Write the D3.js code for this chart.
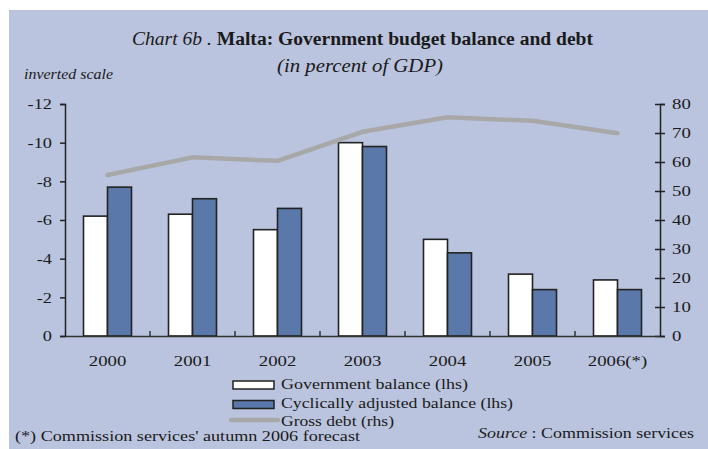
<!DOCTYPE html>
<html>
<head>
<meta charset="utf-8">
<script src="https://cdn.jsdelivr.net/npm/d3@7"></script>
<style>
  html, body { margin: 0; padding: 0; background: #ffffff; }
  svg { display: block; }
  text { font-family: "Liberation Serif", "Times New Roman", serif; fill: #1a1a1a; }
</style>
</head>
<body>
<svg id="chart" width="708" height="449"></svg>
<script>
// ---- Data ----
const years = ["2000", "2001", "2002", "2003", "2004", "2005", "2006(*)"];
const govBalance = [-6.2, -6.3, -5.5, -10.0, -5.0, -3.2, -2.9];   // lhs, inverted scale
const cycBalance = [-7.7, -7.1, -6.6, -9.8, -4.3, -2.4, -2.4];    // lhs, inverted scale
const grossDebt = [55.5, 61.6, 60.4, 70.4, 75.4, 74.2, 69.9];     // rhs
const leftTicks = [0, -2, -4, -6, -8, -10, -12];
const rightTicks = [0, 10, 20, 30, 40, 50, 60, 70, 80];
const seriesNames = ["Government balance (lhs)", "Cyclically adjusted balance (lhs)", "Gross debt (rhs)"];

// ---- Layout ----
const svg = d3.select("#chart");
const plot = { left: 65, right: 660, top: 104, bottom: 336 };
const colors = { bg: "#BAC4DE", gov: "#FFFFFF", cyc: "#5A78A9", debt: "#A8A8A8", axis: "#222222" };

function fitWidth(sel, w) { sel.attr("textLength", w).attr("lengthAdjust", "spacingAndGlyphs"); }
function stretch(sel, factor) {
  sel.each(function() {
    const L = this.getComputedTextLength();
    d3.select(this).attr("textLength", L * factor).attr("lengthAdjust", "spacingAndGlyphs");
  });
}

// background panel
svg.append("rect").attr("x", 9).attr("y", 10).attr("width", 699).attr("height", 439).attr("fill", colors.bg);

// ---- Scales ----
const x = d3.scaleBand().domain(years).range([plot.left, plot.right]).padding(0);
const groupW = 48;
const xs = d3.scaleBand().domain(["gov", "cyc"]).range([0, groupW]);
const off = (x.bandwidth() - groupW) / 2;
const yL = d3.scaleLinear().domain([0, -12]).range([plot.bottom, plot.top]);
const yR = d3.scaleLinear().domain([0, 80]).range([plot.bottom, plot.top]);

// ---- Bars ----
const rows = years.map((y, i) => ({ year: y, gov: govBalance[i], cyc: cycBalance[i] }));
const g = svg.append("g");
["gov", "cyc"].forEach(key => {
  g.selectAll("rect." + key).data(rows).enter().append("rect")
    .attr("class", key)
    .attr("x", d => x(d.year) + off + xs(key))
    .attr("y", d => yL(d[key]))
    .attr("width", xs.bandwidth())
    .attr("height", d => yL(0) - yL(d[key]))
    .attr("fill", colors[key])
    .attr("stroke", colors.axis)
    .attr("stroke-width", 1.6);
});

// ---- Axes ----
const leftAxis = svg.append("g").attr("transform", `translate(${plot.left},0)`)
  .call(d3.axisLeft(yL).tickValues(leftTicks).tickSize(5).tickPadding(8).tickFormat(d => d === 0 ? "0" : String(d)));
leftAxis.select(".domain").attr("stroke", colors.axis).attr("stroke-width", 1.5);
leftAxis.selectAll(".tick line").attr("stroke", colors.axis).attr("stroke-width", 1.5);
leftAxis.selectAll("text").attr("font-size", 15).attr("font-family", "Liberation Serif").attr("fill", "#1a1a1a");
stretch(leftAxis.selectAll("text"), 1.22);

const rightAxis = svg.append("g").attr("transform", `translate(${plot.right},0)`)
  .call(d3.axisRight(yR).tickValues(rightTicks).tickSize(5).tickPadding(7));
rightAxis.select(".domain").attr("stroke", colors.axis).attr("stroke-width", 1.5);
rightAxis.selectAll(".tick line").attr("x1", -5).attr("x2", 5).attr("stroke", colors.axis).attr("stroke-width", 1.5);
rightAxis.selectAll("text").attr("font-size", 15).attr("font-family", "Liberation Serif").attr("fill", "#1a1a1a");
stretch(rightAxis.selectAll("text"), 1.25);

const bottomAxis = svg.append("g").attr("transform", `translate(0,${plot.bottom})`)
  .call(d3.axisBottom(x).tickSize(0).tickPadding(0));
bottomAxis.select(".domain").attr("stroke", "#333").attr("stroke-width", 1.5);
bottomAxis.selectAll("text").attr("font-size", 15).attr("font-family", "Liberation Serif")
  .attr("fill", "#1a1a1a").attr("y", 30).attr("dy", 0);
stretch(bottomAxis.selectAll("text"), 1.25);
bottomAxis.selectAll("line.sep").data(years.slice(1)).enter().append("line")
  .attr("class", "sep")
  .attr("x1", d => x(d)).attr("x2", d => x(d))
  .attr("y1", 0).attr("y2", -5)
  .attr("stroke", "#333").attr("stroke-width", 1.5);

// ---- Gross debt line ----
const line = d3.line().x((d, i) => x(years[i]) + x.bandwidth() / 2).y(d => yR(d));
svg.append("path").datum(grossDebt).attr("d", line)
  .attr("fill", "none").attr("stroke", colors.debt).attr("stroke-width", 4.5)
  .attr("stroke-linecap", "round").attr("stroke-linejoin", "round");

// ---- Titles ----
const title = svg.append("text").attr("x", 362.5).attr("y", 45).attr("text-anchor", "middle").attr("font-size", 18);
title.append("tspan").attr("font-style", "italic").text("Chart 6b . ");
title.append("tspan").attr("font-weight", "bold").text("Malta: Government budget balance and debt");
fitWidth(title, 461);

const sub = svg.append("text").attr("x", 360).attr("y", 72).attr("text-anchor", "middle")
  .attr("font-size", 18).attr("font-style", "italic").text("(in percent of GDP)");
fitWidth(sub, 166);

const inv = svg.append("text").attr("x", 24).attr("y", 79).attr("font-size", 14)
  .attr("font-style", "italic").text("inverted scale");
fitWidth(inv, 89);

// ---- Legend ----
const lg = svg.append("g");
const lx = 233, tx = 281;
lg.append("rect").attr("x", lx).attr("y", 381).attr("width", 41).attr("height", 8)
  .attr("fill", colors.gov).attr("stroke", colors.axis).attr("stroke-width", 1.5);
lg.append("rect").attr("x", lx).attr("y", 400.5).attr("width", 41).attr("height", 8)
  .attr("fill", colors.cyc).attr("stroke", colors.axis).attr("stroke-width", 1.5);
lg.append("line").attr("x1", 231).attr("x2", 278).attr("y1", 420).attr("y2", 420)
  .attr("stroke", colors.debt).attr("stroke-width", 4.5).attr("stroke-linecap", "round");
const legW = [187, 232, 113];
const legY = [388.5, 408, 426];
seriesNames.forEach((s, i) => {
  const t = lg.append("text").attr("x", tx).attr("y", legY[i]).attr("font-size", 15).text(s);
  fitWidth(t, legW[i]);
});

// ---- Footnotes ----
const fn = svg.append("text").attr("x", 15).attr("y", 441).attr("font-size", 14)
  .text("(*) Commission services' autumn 2006 forecast");
fitWidth(fn, 345);

const src = svg.append("text").attr("x", 478).attr("y", 438).attr("font-size", 15);
src.append("tspan").attr("font-style", "italic").text("Source");
src.append("tspan").text(" : Commission services");
fitWidth(src, 216);
</script>
</body>
</html>
